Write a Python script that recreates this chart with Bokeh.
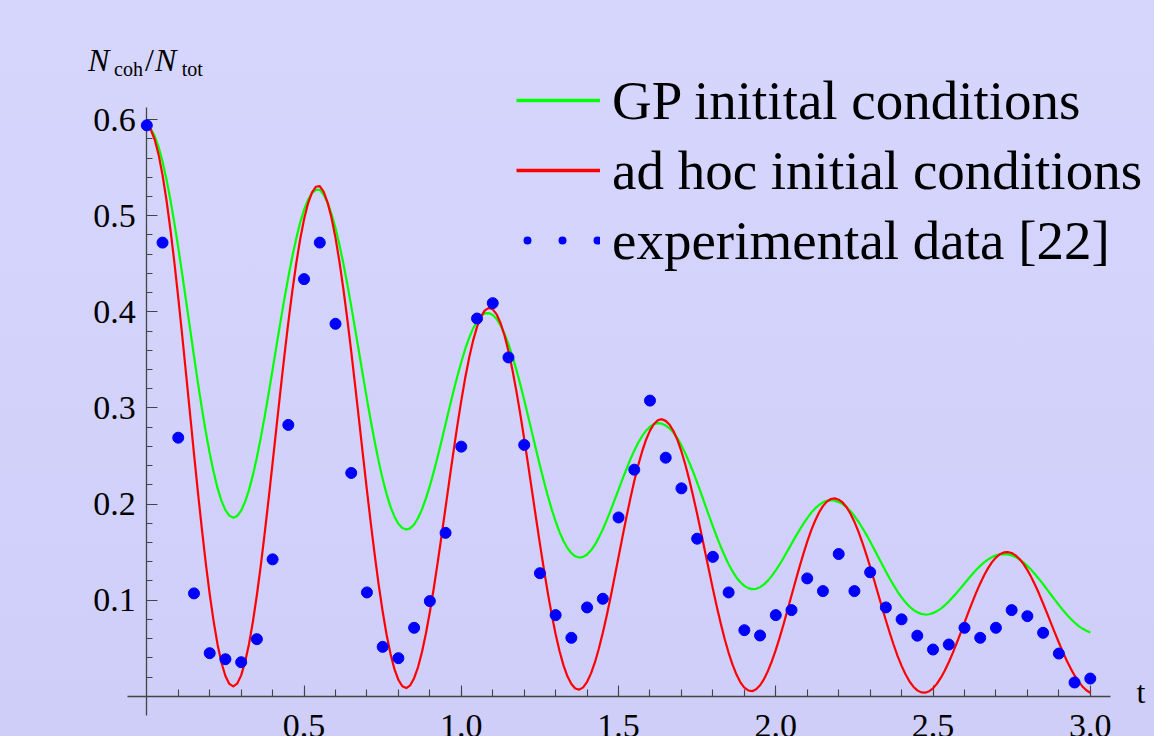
from bokeh.plotting import figure
from bokeh.models import Range1d, FixedTicker, NumeralTickFormatter, Legend, LegendItem, Label
from bokeh.embed import file_html
from bokeh.resources import INLINE

# ---------------- data ----------------
t_curve = [round(0.0125 * i, 4) for i in range(241)]

gp_curve = [
    0.594, 0.5905, 0.5829, 0.5714, 0.5563, 0.5379, 0.5165, 0.4928, 0.4668, 0.4395,
    0.4111, 0.3826, 0.3540, 0.3263, 0.2998, 0.2752, 0.2528, 0.2332, 0.2165, 0.2033,
    0.1937, 0.1879, 0.1858, 0.1876, 0.1931, 0.2023, 0.2147, 0.2303, 0.2485, 0.2691,
    0.2914, 0.3152, 0.3398, 0.3648, 0.3895, 0.4134, 0.4362, 0.4573, 0.4761, 0.4926,
    0.5060, 0.5164, 0.5234, 0.5269, 0.5268, 0.5217, 0.5133, 0.5017, 0.4871, 0.4698,
    0.4502, 0.4289, 0.4059, 0.3820, 0.3576, 0.3332, 0.3091, 0.2860, 0.2642, 0.2441,
    0.2260, 0.2103, 0.1971, 0.1868, 0.1794, 0.1750, 0.1735, 0.1747, 0.1787, 0.1854,
    0.1944, 0.2058, 0.2189, 0.2336, 0.2494, 0.2662, 0.2832, 0.3003, 0.3170, 0.3330,
    0.3478, 0.3613, 0.3729, 0.3827, 0.3903, 0.3955, 0.3983, 0.3987, 0.3966, 0.3924,
    0.3858, 0.3771, 0.3663, 0.3539, 0.3398, 0.3245, 0.3082, 0.2913, 0.2741, 0.2569,
    0.2400, 0.2239, 0.2086, 0.1944, 0.1818, 0.1708, 0.1615, 0.1542, 0.1489, 0.1456,
    0.1443, 0.1450, 0.1475, 0.1518, 0.1577, 0.1651, 0.1736, 0.1832, 0.1934, 0.2042,
    0.2150, 0.2259, 0.2363, 0.2464, 0.2555, 0.2638, 0.2707, 0.2763, 0.2804, 0.2832,
    0.2841, 0.2836, 0.2816, 0.2786, 0.2740, 0.2683, 0.2610, 0.2527, 0.2432, 0.2331,
    0.2222, 0.2110, 0.1994, 0.1880, 0.1767, 0.1658, 0.1555, 0.1461, 0.1374, 0.1300,
    0.1236, 0.1186, 0.1148, 0.1125, 0.1114, 0.1118, 0.1135, 0.1164, 0.1203, 0.1252,
    0.1309, 0.1373, 0.1441, 0.1513, 0.1585, 0.1658, 0.1727, 0.1793, 0.1854, 0.1908,
    0.1954, 0.1990, 0.2017, 0.2034, 0.2039, 0.2034, 0.2020, 0.1999, 0.1967, 0.1926,
    0.1875, 0.1818, 0.1753, 0.1684, 0.1609, 0.1532, 0.1453, 0.1375, 0.1297, 0.1223,
    0.1153, 0.1087, 0.1029, 0.0977, 0.0934, 0.0899, 0.0873, 0.0857, 0.0850, 0.0853,
    0.0865, 0.0885, 0.0912, 0.0946, 0.0985, 0.1029, 0.1075, 0.1124, 0.1173, 0.1223,
    0.1270, 0.1316, 0.1356, 0.1393, 0.1423, 0.1448, 0.1466, 0.1477, 0.1478, 0.1476,
    0.1465, 0.1449, 0.1423, 0.1393, 0.1356, 0.1315, 0.1267, 0.1218, 0.1165, 0.1111,
    0.1056, 0.1003, 0.0949, 0.0899, 0.0850, 0.0807, 0.0767, 0.0733, 0.0704, 0.0682,
    0.0664,
]

adhoc_curve = [
    0.594, 0.5896, 0.5793, 0.5635, 0.5423, 0.5163, 0.4859, 0.4519, 0.4148, 0.3756,
    0.3349, 0.2937, 0.2525, 0.2124, 0.1743, 0.1386, 0.1063, 0.0779, 0.0539, 0.0349,
    0.0211, 0.0128, 0.0102, 0.0131, 0.0217, 0.0356, 0.0544, 0.0779, 0.1053, 0.1362,
    0.1700, 0.2057, 0.2429, 0.2806, 0.3179, 0.3543, 0.3889, 0.4211, 0.4500, 0.4752,
    0.4962, 0.5126, 0.5240, 0.5301, 0.5308, 0.5248, 0.5136, 0.4975, 0.4769, 0.4522,
    0.4238, 0.3925, 0.3587, 0.3233, 0.2869, 0.2503, 0.2142, 0.1793, 0.1462, 0.1156,
    0.0880, 0.0640, 0.0439, 0.0281, 0.0170, 0.0104, 0.0085, 0.0114, 0.0188, 0.0304,
    0.0461, 0.0652, 0.0876, 0.1124, 0.1392, 0.1675, 0.1965, 0.2256, 0.2543, 0.2818,
    0.3076, 0.3313, 0.3522, 0.3700, 0.3843, 0.3949, 0.4015, 0.4041, 0.4026, 0.3973,
    0.3881, 0.3753, 0.3589, 0.3397, 0.3177, 0.2937, 0.2679, 0.2410, 0.2133, 0.1857,
    0.1586, 0.1324, 0.1077, 0.0849, 0.0645, 0.0468, 0.0321, 0.0207, 0.0127, 0.0080,
    0.0069, 0.0092, 0.0150, 0.0238, 0.0354, 0.0496, 0.0660, 0.0841, 0.1036, 0.1240,
    0.1449, 0.1658, 0.1862, 0.2057, 0.2239, 0.2404, 0.2547, 0.2669, 0.2763, 0.2832,
    0.2871, 0.2883, 0.2865, 0.2825, 0.2757, 0.2665, 0.2547, 0.2408, 0.2251, 0.2079,
    0.1895, 0.1703, 0.1506, 0.1310, 0.1117, 0.0932, 0.0757, 0.0596, 0.0452, 0.0328,
    0.0225, 0.0145, 0.0090, 0.0060, 0.0053, 0.0072, 0.0114, 0.0178, 0.0263, 0.0364,
    0.0482, 0.0613, 0.0752, 0.0899, 0.1048, 0.1196, 0.1341, 0.1479, 0.1608, 0.1725,
    0.1826, 0.1912, 0.1978, 0.2025, 0.2052, 0.2059, 0.2045, 0.2016, 0.1967, 0.1899,
    0.1814, 0.1715, 0.1602, 0.1479, 0.1347, 0.1209, 0.1069, 0.0928, 0.0790, 0.0658,
    0.0533, 0.0418, 0.0316, 0.0229, 0.0155, 0.0099, 0.0061, 0.0040, 0.0037, 0.0051,
    0.0083, 0.0131, 0.0193, 0.0268, 0.0354, 0.0449, 0.0551, 0.0657, 0.0766, 0.0874,
    0.0979, 0.1080, 0.1174, 0.1259, 0.1333, 0.1395, 0.1443, 0.1477, 0.1496, 0.1500,
    0.1490, 0.1466, 0.1428, 0.1377, 0.1313, 0.1238, 0.1154, 0.1063, 0.0965, 0.0864,
    0.0761, 0.0659, 0.0559, 0.0463, 0.0372, 0.0290, 0.0216, 0.0154, 0.0102, 0.0062,
    0.0036,
]

t_exp = [round(0.05 * i, 2) for i in range(61)]
exp_data = [
    0.594, 0.472, 0.269, 0.107, 0.0448, 0.0385, 0.0354, 0.0594, 0.1424, 0.2823,
    0.434, 0.472, 0.3875, 0.2323, 0.108, 0.0514, 0.0396, 0.0712, 0.099, 0.170,
    0.2597, 0.393, 0.409, 0.3525, 0.2615, 0.128, 0.0844, 0.0608, 0.0924, 0.1014,
    0.186, 0.2357, 0.3076, 0.2482, 0.2163, 0.1639, 0.145, 0.108, 0.0687, 0.0632,
    0.0844, 0.0896, 0.1226, 0.1094, 0.148, 0.1094, 0.129, 0.0924, 0.080, 0.063,
    0.0486, 0.0538, 0.0712, 0.0608, 0.0712, 0.0896, 0.0833, 0.066, 0.0444, 0.0143,
    0.0184,
]

x_major = [0.5, 1.0, 1.5, 2.0, 2.5, 3.0]
x_minor = [round(0.1 * i, 1) for i in range(1, 31)]
y_major = [0.1, 0.2, 0.3, 0.4, 0.5, 0.6]
y_minor = [round(0.02 * i, 2) for i in range(1, 31)]

labels = ["GP initital conditions", "ad hoc initial conditions", "experimental data [22]"]

# ---------------- figure ----------------
SERIF = "Liberation Serif"
AX = "#444444"
NAN = float("nan")

p = figure(width=1154, height=736, output_backend="svg", toolbar_location=None,
           x_range=Range1d(-0.4652, 3.2042), y_range=Range1d(-0.0419, 0.7239),
           min_border=0, min_border_left=0, min_border_right=0,
           min_border_top=0, min_border_bottom=0)
p.background_fill_alpha = 0
p.border_fill_alpha = 0
p.outline_line_color = None
p.xgrid.visible = False
p.ygrid.visible = False

for ax in (p.xaxis[0], p.yaxis[0]):
    ax.fixed_location = 0
    ax.axis_line_color = AX
    ax.axis_line_width = 1.3
    ax.major_tick_line_color = AX
    ax.minor_tick_line_color = AX
    ax.major_tick_line_width = 1.1
    ax.minor_tick_line_width = 1.1
    ax.major_tick_out = 0
    ax.minor_tick_out = 0
    ax.major_tick_in = 11
    ax.major_label_text_font = SERIF
    ax.major_label_text_font_size = "34px"
    ax.major_label_text_color = "black"
    ax.formatter = NumeralTickFormatter(format="0.0")
    ax.level = "underlay"

p.xaxis[0].ticker = FixedTicker(ticks=x_major, minor_ticks=x_minor)
p.yaxis[0].ticker = FixedTicker(ticks=y_major, minor_ticks=y_minor)
p.xaxis[0].bounds = (-0.062, 3.063)
p.yaxis[0].bounds = (-0.020, 0.6123)
p.xaxis[0].minor_tick_in = 7
p.yaxis[0].minor_tick_in = 6
p.xaxis[0].major_label_standoff = 19
p.yaxis[0].major_label_standoff = 11

# curves and data
p.line(t_curve, gp_curve, line_color="#00ff00", line_width=2.2, line_join="round")
p.line(t_curve, adhoc_curve, line_color="#ff0000", line_width=2.2, line_join="round")
p.scatter(t_exp, exp_data, size=11, fill_color="#0000ff", line_color="#0000ff")

# legend sample glyphs (one NaN point each, so nothing is drawn in the plot)
lg_gp = p.line([NAN], [NAN], line_color="#00ff00", line_width=3.7)
lg_ad = p.line([NAN], [NAN], line_color="#ff0000", line_width=3.7)
lg_ex = p.line([NAN], [NAN], line_color="#0000ff", line_width=8, line_dash="0 35",
               line_dash_offset=24, line_cap="round")
legend = Legend(
    items=[LegendItem(label=labels[0], renderers=[lg_gp]),
           LegendItem(label=labels[1], renderers=[lg_ad]),
           LegendItem(label=labels[2], renderers=[lg_ex])],
    location=(516, 461), orientation="vertical",
    glyph_width=84, glyph_height=70, label_height=70, label_standoff=12,
    spacing=0, padding=0, margin=0,
    border_line_alpha=0, background_fill_alpha=0,
    label_text_font=SERIF, label_text_font_size="55px", label_text_color="black",
)
p.add_layout(legend)

# axis titles
def lab(x, y, text, size, style="normal"):
    p.add_layout(Label(x=x, y=y, text=text, text_font=SERIF, text_font_size=size,
                       text_font_style=style, text_color="black",
                       text_align="left", text_baseline="alphabetic"))

lab(3.147, 0.0049, "t", "32px")
lab(-0.1866, 0.6618, "N", "32px", "italic")
lab(-0.1040, 0.6526, "coh", "20px")
lab(-0.0057, 0.6618, "/", "32px")
lab(0.0264, 0.6618, "N", "32px", "italic")
lab(0.1110, 0.6526, "tot", "20px")

html = file_html(p, INLINE, title="plot")
html = html.replace(
    "</head>",
    "<style>html{min-height:100%;background:linear-gradient(#d6d6fd,#cecef9);}"
    "body{background:transparent;}</style></head>", 1)
open("out.html", "w").write(html)
